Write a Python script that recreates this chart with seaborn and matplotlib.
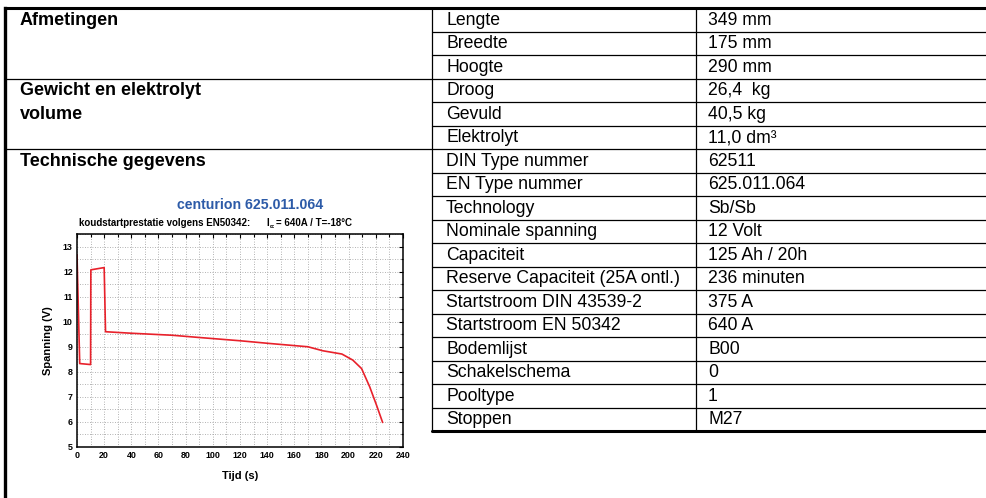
import pandas as pd
import seaborn as sb
import matplotlib.pyplot as plt
from matplotlib.ticker import MultipleLocator

# cold start curve
time_s = [0, 2, 10, 10.2, 20, 21, 40, 70, 90, 120, 142, 170, 181, 195, 203, 209.5, 215.5, 220.5, 225]
voltage_v = [12.67, 8.33, 8.29, 12.07, 12.16, 9.6, 9.54, 9.46, 9.37, 9.24, 9.13, 9.0, 8.84, 8.71, 8.47, 8.13, 7.4, 6.67, 5.98]

# left column: row index where each text sits
section_rows = [0, 3, 4, 6]
section_texts = ["Afmetingen", "Gewicht en elektrolyt", "volume", "Technische gegevens"]
section_breaks = [3, 6]

spec_labels = [
    "Lengte", "Breedte", "Hoogte", "Droog", "Gevuld", "Elektrolyt",
    "DIN Type nummer", "EN Type nummer", "Technology", "Nominale spanning",
    "Capaciteit", "Reserve Capaciteit (25A ontl.)", "Startstroom DIN 43539-2",
    "Startstroom EN 50342", "Bodemlijst", "Schakelschema", "Pooltype", "Stoppen",
]
spec_values = [
    "349 mm", "175 mm", "290 mm", "26,4  kg", "40,5 kg", "11,0 dm\u00b3",
    "62511", "625.011.064", "Sb/Sb", "12 Volt",
    "125 Ah / 20h", "236 minuten", "375 A",
    "640 A", "B00", "0", "1", "M27",
]

chart_title = "centurion 625.011.064"
chart_subtitle = "koudstartprestatie volgens EN50342:"
chart_condition = "= 640A / T=-18\u00b0C"

W, H = 987, 498
TOP, ROW = 8, 23.5
LEFT, MID, VAL = 5, 432, 696


def drawTable(bg):
    n = len(spec_labels)
    bottom = TOP + n * ROW
    for k in range(1, n):
        y = TOP + k * ROW
        x0 = LEFT if k in section_breaks else MID
        bg.plot([x0, W], [y, y], color="black", lw=0.9)
    bg.plot([LEFT, W], [TOP, TOP], color="black", lw=2.2, solid_capstyle="projecting")
    bg.plot([MID, W], [bottom, bottom], color="black", lw=2.2)
    bg.plot([LEFT, LEFT], [TOP, H], color="black", lw=2.4, solid_capstyle="projecting")
    bg.plot([MID, MID], [TOP, bottom], color="black", lw=0.9)
    bg.plot([VAL, VAL], [TOP, bottom], color="black", lw=0.9)

    for i, (lab, val) in enumerate(zip(spec_labels, spec_values)):
        y = TOP + (i + 0.5) * ROW + 0.5
        bg.text(446, y, lab, va="center", ha="left", fontsize=12.7)
        bg.text(708, y, val, va="center", ha="left", fontsize=12.7)
    for r, txt in zip(section_rows, section_texts):
        y = TOP + (r + 0.5) * ROW + 0.5
        bg.text(20, y, txt, va="center", ha="left", fontsize=13, fontweight="bold")


def drawChart(fig, bg):
    bg.text(250, 205, chart_title, ha="center", va="center", color="#2d5ba8",
            fontsize=10.2, fontweight="bold")
    bg.text(79, 223, chart_subtitle, ha="left", va="center", fontsize=7, fontweight="bold")
    bg.text(266, 223, "I", ha="left", va="center", fontsize=7, fontweight="bold")
    bg.text(269.5, 226.5, "cc", ha="left", va="center", fontsize=3.4, fontweight="bold")
    bg.text(276, 223, chart_condition, ha="left", va="center", fontsize=7, fontweight="bold")

    ax = fig.add_axes([77 / W, 1 - 447 / H, 326 / W, 213 / H])
    df = pd.DataFrame({"Tijd (s)": time_s, "Spanning (V)": voltage_v})
    sb.lineplot(data=df, x="Tijd (s)", y="Spanning (V)", ax=ax, color="#e8212b",
                lw=1.2, sort=False)
    ax.set_xlim(0, 240)
    ax.set_ylim(5, 13.5)
    ax.xaxis.set_major_locator(MultipleLocator(20))
    ax.xaxis.set_minor_locator(MultipleLocator(10))
    ax.yaxis.set_major_locator(MultipleLocator(1))
    ax.yaxis.set_minor_locator(MultipleLocator(0.5))
    ax.grid(which="both", ls=(0, (1, 2)), color="#999999", lw=0.6)
    ax.set_axisbelow(True)
    ax.tick_params(which="both", direction="in", top=True, right=True,
                   labelsize=6.4, width=0.8, color="black", labelcolor="black", pad=3)
    ax.tick_params(which="major", length=3)
    ax.tick_params(which="minor", length=1.8)
    for lab in ax.get_xticklabels() + ax.get_yticklabels():
        lab.set_fontweight("bold")
    for sp in ax.spines.values():
        sp.set_color("black")
        sp.set_linewidth(1.1)
    ax.set_xlabel("Tijd (s)", fontsize=8, fontweight="bold", labelpad=8)
    ax.set_ylabel("Spanning (V)", fontsize=8, fontweight="bold", labelpad=7)


def main():
    sb.set_style("white")
    plt.rcParams["font.family"] = ["Liberation Sans", "DejaVu Sans"]
    plt.rcParams["text.color"] = "black"
    plt.rcParams["axes.labelcolor"] = "black"
    fig = plt.figure(figsize=(W / 100, H / 100), dpi=100)
    bg = fig.add_axes([0, 0, 1, 1])
    bg.set_xlim(0, W)
    bg.set_ylim(H, 0)
    bg.axis("off")
    drawTable(bg)
    drawChart(fig, bg)
    plt.savefig("out.png", dpi=100)


if __name__ == "__main__":
    main()
